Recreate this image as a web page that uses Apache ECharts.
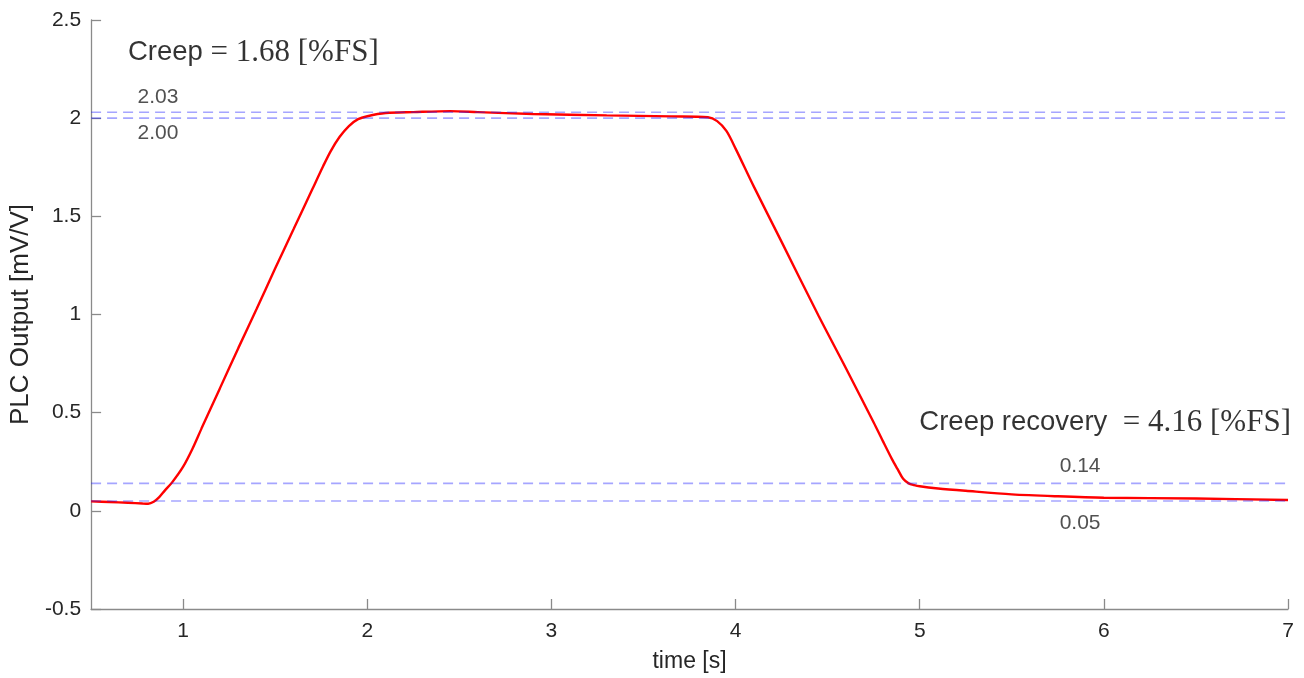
<!DOCTYPE html>
<html>
<head>
<meta charset="utf-8">
<script src="https://cdn.jsdelivr.net/npm/echarts@6/dist/echarts.min.js"></script>
<style>
  html, body { margin: 0; padding: 0; background: #fff; overflow: hidden; }
  #chart { width: 1304px; height: 678px; }
</style>
</head>
<body>
<div id="chart"></div>
<script>
// PLC output recorded during a load / hold / unload cycle
const timeS = [
  0.50, 0.60, 0.70, 0.78, 0.81, 0.84, 0.87, 0.90, 0.94, 1.00,
  1.05, 1.10, 1.20, 1.30, 1.40, 1.50, 1.60, 1.70, 1.76, 1.80,
  1.85, 1.90, 1.95, 2.00, 2.10, 2.25, 2.45, 2.60, 2.90, 3.30,
  3.65, 3.85, 3.90, 3.95, 4.00, 4.10, 4.25, 4.45, 4.60, 4.75,
  4.80, 4.85, 4.88, 4.91, 4.94, 4.97, 5.00, 5.10, 5.25, 5.50,
  5.75, 6.00, 6.50, 7.00
];
const outputMvV = [
  0.048, 0.045, 0.041, 0.037, 0.036, 0.046, 0.070, 0.103, 0.145, 0.225,
  0.315, 0.420, 0.625, 0.830, 1.030, 1.235, 1.435, 1.635, 1.755, 1.830,
  1.905, 1.960, 1.995, 2.010, 2.026, 2.031, 2.036, 2.031, 2.021, 2.014,
  2.009, 2.005, 1.985, 1.935, 1.845, 1.650, 1.370, 0.995, 0.725, 0.450,
  0.355, 0.262, 0.212, 0.163, 0.140, 0.131, 0.125, 0.114, 0.102, 0.084,
  0.074, 0.067, 0.063, 0.055
];

// reference levels (hold plateau and recovery) and their label anchors
const creepLevels = [2.03, 2.00];
const recoveryLevels = [0.14, 0.05];
const creepLabelT = 0.863;
const recoveryLabelT = 5.871;

const creepValue = '1.68';
const recoveryValue = '4.16';

const xTicks = [1, 2, 3, 4, 5, 6, 7];
const yMin = -0.5, yMax = 2.5, yStep = 0.5;
const xMin = 0.5, xMax = 7;

const curve = timeS.map((t, i) => [t, outputMvV[i]]);

const axisGray = '#8a8a8a';
const labelColor = '#262626';
const dashColor = 'rgba(30,30,255,0.40)';

function levelLine(v) {
  return {
    type: 'line',
    data: [[xMin, v], [xMax, v]],
    symbol: 'none',
    silent: true,
    z: 5,
    lineStyle: { color: dashColor, width: 1.6, type: [10, 6] }
  };
}

function levelLabel(t, v, dy) {
  return {
    value: [t, v],
    label: { offset: [0, dy], formatter: v.toFixed(2) }
  };
}

const chart = echarts.init(document.getElementById('chart'));
chart.setOption({
  animation: false,
  backgroundColor: '#fff',
  grid: { left: 87, right: 16, top: 20, bottom: 65, containLabel: false },
  xAxis: {
    type: 'value',
    min: xMin,
    max: xMax,
    name: 'time [s]',
    nameLocation: 'middle',
    nameGap: 41,
    nameTextStyle: { fontFamily: 'Liberation Sans', fontSize: 23, color: labelColor },
    axisLine: { show: true, onZero: false, lineStyle: { color: axisGray, width: 1.3 } },
    axisTick: { show: true, inside: true, length: 10, customValues: xTicks, lineStyle: { color: axisGray, width: 1.3 } },
    axisLabel: { customValues: xTicks, margin: 12, fontFamily: 'Liberation Sans', fontSize: 21, color: labelColor },
    splitLine: { show: false }
  },
  yAxis: {
    type: 'value',
    min: yMin,
    max: yMax,
    interval: yStep,
    name: 'PLC Output [mV/V]',
    nameLocation: 'middle',
    nameGap: 52,
    nameTextStyle: { fontFamily: 'Liberation Sans', fontSize: 26, color: labelColor },
    axisLine: { show: true, onZero: false, lineStyle: { color: axisGray, width: 1.3 } },
    axisTick: { show: true, inside: true, length: 10, lineStyle: { color: axisGray, width: 1.3 } },
    axisLabel: { margin: 10, fontFamily: 'Liberation Sans', fontSize: 21, color: labelColor },
    splitLine: { show: false }
  },
  series: [
    {
      type: 'line',
      data: curve,
      symbol: 'none',
      smooth: 0.3,
      z: 3,
      lineStyle: { color: '#ff0000', width: 2.4 }
    },
    ...creepLevels.map(levelLine),
    ...recoveryLevels.map(levelLine),
    {
      type: 'scatter',
      symbolSize: 0,
      silent: true,
      z: 6,
      label: {
        show: true,
        position: [0, 0],
        align: 'center',
        verticalAlign: 'middle',
        fontFamily: 'Liberation Sans',
        fontSize: 21,
        color: labelColor
      },
      data: [
        levelLabel(creepLabelT, creepLevels[0], -15),
        levelLabel(creepLabelT, creepLevels[1], 15),
        levelLabel(recoveryLabelT, recoveryLevels[0], -17),
        levelLabel(recoveryLabelT, recoveryLevels[1], 22)
      ]
    },
    {
      type: 'scatter',
      symbolSize: 0,
      silent: true,
      z: 6,
      label: {
        show: true,
        position: [0, 0],
        verticalAlign: 'middle',
        rich: {
          a: { fontFamily: 'Liberation Sans', fontSize: 27.5, color: '#000' },
          b: { fontFamily: 'Liberation Serif', fontSize: 31, color: '#000' }
        }
      },
      data: [
        {
          value: [0.70, 2.333],
          label: { align: 'left', formatter: '{a|Creep}{b| = ' + creepValue + ' [%FS]}' }
        },
        {
          value: [7.0, 0.449],
          label: { align: 'right', offset: [3, 0], formatter: '{a|Creep recovery}{b|  = ' + recoveryValue + ' [%FS]}' }
        }
      ]
    }
  ]
});
</script>
</body>
</html>
